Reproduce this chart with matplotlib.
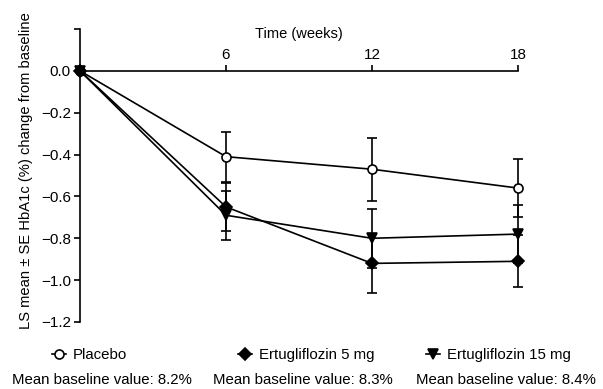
import numpy as np
import matplotlib
matplotlib.use("Agg")
from matplotlib import pyplot as plt
from matplotlib.lines import Line2D

plt.rcParams['font.family'] = ['Liberation Sans', 'DejaVu Sans']

weeks = [0, 6, 12, 18]
groups = ['Placebo', 'Ertugliflozin 5 mg', 'Ertugliflozin 15 mg']
markers = ['o', 'D', 'v']
fills = ['white', 'black', 'black']
means = [
    [0.0, -0.41, -0.47, -0.56],
    [0.0, -0.65, -0.92, -0.91],
    [0.0, -0.69, -0.80, -0.78],
]
ses = [
    [0.0, 0.12, 0.15, 0.14],
    [0.0, 0.115, 0.14, 0.125],
    [0.0, 0.118, 0.14, 0.14],
]
baselines = ['Mean baseline value: 8.2%', 'Mean baseline value: 8.3%',
             'Mean baseline value: 8.4%']
yticks = [0.2, 0.0, -0.2, -0.4, -0.6, -0.8, -1.0, -1.2]
xticks = [6, 12, 18]

fig = plt.figure(figsize=(6.03, 3.89), dpi=100)
ax = fig.add_axes([80/603, 1-322/389, 438/603, 293/389])

msizes = [6.5, 6, 6.5]
for i in range(3):
    ax.errorbar(weeks, means[i], yerr=ses[i], color='black', lw=1.2,
                marker=markers[i], mfc=fills[i], mec='black', ms=msizes[i],
                mew=1.2, capsize=3.5, capthick=1.2, elinewidth=1.2,
                clip_on=False, zorder=3)

ax.set_xlim(0, 18)
ax.set_ylim(-1.2, 0.2)

# x axis runs along y = 0, ticks and labels above it
ax.spines['right'].set_visible(False)
ax.spines['bottom'].set_visible(False)
ax.spines['top'].set_position(('data', 0))
ax.spines['top'].set_linewidth(1.2)
ax.spines['left'].set_linewidth(1.2)
ax.xaxis.tick_top()
ax.set_xticks(xticks)
ax.set_xticklabels([str(t) for t in xticks])
ax.set_yticks(yticks)
ax.set_yticklabels([''] + [('%.1f' % v).replace('-', '\u2212') for v in yticks[1:]])
ax.tick_params(axis='both', width=1.2, length=4.5, labelsize=11, pad=2)
ax.set_ylabel('LS mean \u00b1 SE HbA1c (%) change from baseline', fontsize=10.6)
ax.yaxis.set_label_coords(-0.107, 0.517)
ax.text(9, 0.176, 'Time (weeks)', ha='center', va='center', fontsize=10.5)

# legend entries placed separately to match the spacing
legend_x = [52/603, 238/603, 426/603]
for i in range(3):
    h = Line2D([0], [0], color='black', lw=1.2, marker=markers[i],
               mfc=fills[i], mec='black', ms=msizes[i], mew=1.2)
    fig.legend([h], [groups[i]], loc='center left',
               bbox_to_anchor=(legend_x[i], 1-355/389), frameon=False,
               handlelength=0.9, handletextpad=0.5, borderpad=0,
               borderaxespad=0, fontsize=10.8)

base_x = [12/603, 213/603, 416/603]
for i in range(3):
    fig.text(base_x[i], 1-380/389, baselines[i], ha='left', va='center',
             fontsize=10.8)

fig.savefig('out.png', dpi=100)
